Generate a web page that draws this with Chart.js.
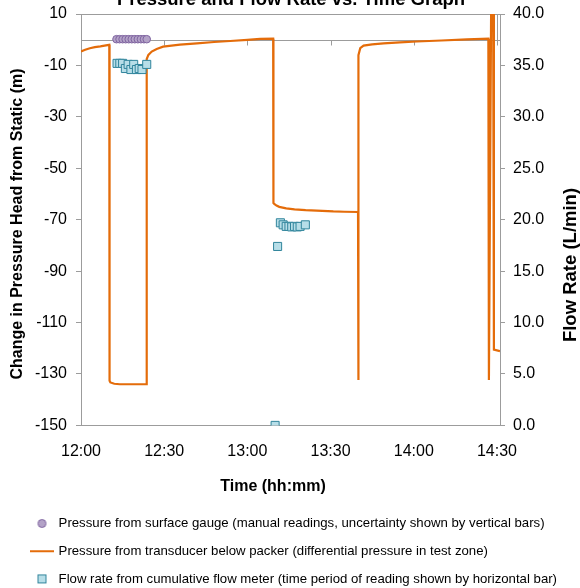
<!DOCTYPE html>
<html><head><meta charset="utf-8">
<script src="https://cdn.jsdelivr.net/npm/chart.js@4.4.1/dist/chart.umd.min.js"></script>
<style>html,body{margin:0;padding:0;background:#fff;overflow:hidden}#wrap{width:580px;height:588px;position:relative}</style>
</head><body><div id="wrap"><canvas id="c" width="580" height="588"></canvas></div>
<script>
// ---------- text ----------
const chartTitle = 'Pressure and Flow Rate vs. Time Graph';
const xTitle = 'Time (hh:mm)';
const yLeftTitle = 'Change in Pressure Head from Static (m)';
const yRightTitle = 'Flow Rate (L/min)';
const legendTexts = [
  'Pressure from surface gauge (manual readings, uncertainty shown by vertical bars)',
  'Pressure from transducer below packer (differential pressure in test zone)',
  'Flow rate from cumulative flow meter (time period of reading shown by horizontal bar)'
];

// ---------- ticks (x in minutes after 12:00) ----------
const xTickValues = [0, 30, 60, 90, 120, 150];
const xTickLabels = ['12:00', '12:30', '13:00', '13:30', '14:00', '14:30'];
const yLeftTicks = [-150, -130, -110, -90, -70, -50, -30, -10, 10];
const yRightTicks = [0, 5, 10, 15, 20, 25, 30, 35, 40];

// ---------- transducer pressure (m) ----------
const transducerTime = [0, 1.5, 3.2, 5, 7, 9, 10.2, 10.3, 10.6, 12, 14, 23.6,
  23.7, 24.3, 25.5, 27.3, 29.6, 35.7, 41.8, 48, 53.8, 60, 64.6, 69.3,
  69.4, 69.7, 70.5, 71.5, 74, 77, 81, 85, 91, 95, 99.9,
  100.0, 100.1, 100.7, 101.9, 105, 109.1, 115, 121.1, 130, 139.2, 146.9,
  147.1, 148.0, 148.6, 148.9, 151.1];
const transducerHead = [-4.6, -3.9, -3.3, -2.9, -2.6, -2.2, -2.0, -132.6, -133.3, -133.8, -134.0, -134.0,
  -7.5, -5.9, -4.6, -3.6, -2.7, -1.9, -1.4, -0.9, -0.5, -0.1, 0.3, 0.4,
  -63.5, -63.9, -64.5, -65.0, -65.6, -66.0, -66.3, -66.5, -66.8, -66.9, -67.0,
  -132.3, -6.0, -3.3, -2.3, -1.8, -1.4, -1.0, -0.7, -0.3, 0.1, 0.4,
  -132.3, 30, 30, -120.5, -121.1];

// ---------- surface gauge pressure (m) ----------
const gaugeTime = [12.8, 13.9, 15.0, 16.1, 17.2, 18.3, 19.4, 20.5, 21.6, 22.7, 23.7];
const gaugeHead = [0.2, 0.2, 0.2, 0.2, 0.2, 0.2, 0.2, 0.2, 0.2, 0.2, 0.2];

// ---------- flow rate (L/min) ----------
const flowTime = [13, 14, 15, 16, 17, 18, 19, 20, 21, 22, 23.7,
  70.0, 70.9, 71.9, 72.9, 74, 75, 76, 77, 78, 79, 80.9];
const flowRate = [35.2, 35.2, 35.2, 34.7, 35.1, 34.6, 35.1, 34.6, 34.7, 34.6, 35.1,
  0.0, 17.4, 19.7, 19.5, 19.35, 19.35, 19.3, 19.35, 19.3, 19.35, 19.5];

// ---------- styles ----------
const FONT = "'Liberation Sans', Arial, sans-serif";
const gray = '#9c9c9c';
const orange = '#e46c0a';
const purpleFill = '#b3a2c7', purpleLine = '#7f64a0';
const blueFill = '#b7dee8', blueLine = '#31859c';

const pts = (xs, ys) => xs.map((x, i) => ({x, y: ys[i]}));

function symbol(kind) {
  const c = document.createElement('canvas');
  if (kind === 'line') { c.width = 24; c.height = 4; }
  else { c.width = 11; c.height = 11; }
  const g = c.getContext('2d');
  if (kind === 'circle') {
    g.beginPath(); g.arc(5.5, 5.5, 4, 0, Math.PI * 2);
    g.fillStyle = purpleFill; g.fill(); g.strokeStyle = purpleLine; g.lineWidth = 1; g.stroke();
  } else if (kind === 'rect') {
    g.fillStyle = blueFill; g.fillRect(1.5, 1.5, 8, 8);
    g.strokeStyle = blueLine; g.lineWidth = 1; g.strokeRect(1.5, 1.5, 8, 8);
  } else {
    g.strokeStyle = orange; g.lineWidth = 2; g.beginPath(); g.moveTo(0, 2); g.lineTo(24, 2); g.stroke();
  }
  return c;
}
const legendSymbols = [symbol('circle'), symbol('line'), symbol('rect')];

const decor = {
  id: 'decor',
  beforeDatasetsDraw(chart) {
    const {ctx, chartArea: a, scales} = chart;
    ctx.save();
    ctx.strokeStyle = gray; ctx.lineWidth = 1;
    const top = Math.round(a.top) + 0.5;
    ctx.beginPath(); ctx.moveTo(a.left, top); ctx.lineTo(a.right, top); ctx.stroke();
    const y0 = Math.round(scales.y.getPixelForValue(0)) + 0.5;
    ctx.beginPath(); ctx.moveTo(a.left, y0); ctx.lineTo(a.right, y0);
    xTickValues.forEach((v, i) => {
      const x = Math.round(scales.x.getPixelForValue(v)) + 0.5;
      const yStart = (i === xTickValues.length - 1) ? top : y0;
      ctx.moveTo(x, yStart); ctx.lineTo(x, y0 + 5);
    });
    ctx.stroke();
    ctx.restore();
  },
  afterDraw(chart) {
    const {ctx} = chart;
    ctx.save();
    ctx.fillStyle = '#000';
    ctx.textAlign = 'center';
    ctx.textBaseline = 'alphabetic';
    ctx.font = 'bold 18.5px ' + FONT;
    ctx.fillText(chartTitle, 291, 5);
    ctx.textBaseline = 'middle';
    ctx.font = 'bold 16px ' + FONT;
    ctx.fillText(xTitle, 273, 487);
    ctx.save(); ctx.translate(18, 224); ctx.rotate(-Math.PI / 2); ctx.fillText(yLeftTitle, 0, 0); ctx.restore();
    ctx.font = 'bold 18.5px ' + FONT;
    ctx.save(); ctx.translate(571, 265); ctx.rotate(-Math.PI / 2); ctx.fillText(yRightTitle, 0, 0); ctx.restore();
    ctx.restore();
  }
};

const tickFont = {family: FONT, size: 16};
const noVPad = (w) => s => { s.width = w; s.paddingTop = 0; s.paddingBottom = 0; };

new Chart(document.getElementById('c'), {
  type: 'scatter',
  data: {
    datasets: [
      {label: legendTexts[0], data: pts(gaugeTime, gaugeHead), yAxisID: 'y', order: 1,
       pointStyle: 'circle', pointRadius: 3.8, backgroundColor: purpleFill, borderColor: purpleLine, borderWidth: 1},
      {label: legendTexts[1], data: pts(transducerTime, transducerHead), yAxisID: 'y', order: 2,
       showLine: true, pointRadius: 0, borderColor: orange, backgroundColor: orange, borderWidth: 2.2, tension: 0},
      {label: legendTexts[2], data: pts(flowTime, flowRate), yAxisID: 'y1', order: 0,
       pointStyle: 'rect', pointRadius: 5.7, backgroundColor: blueFill, borderColor: blueLine, borderWidth: 1}
    ]
  },
  options: {
    responsive: false, animation: false, devicePixelRatio: 1, events: [],
    layout: {padding: {top: 14, left: 17.5, right: 0, bottom: -7.5}},
    scales: {
      x: {
        type: 'linear', min: 0, max: 151.1,
        afterBuildTicks: s => { s.ticks = xTickValues.map(v => ({value: v})); },
        afterFit: s => { s.height = 77; s.paddingLeft = 0; s.paddingRight = 0; },
        grid: {display: false},
        border: {display: true, color: gray, width: 1},
        ticks: {font: tickFont, color: '#000', padding: 9, maxRotation: 0, autoSkip: false,
                callback: v => xTickLabels[xTickValues.indexOf(v)]}
      },
      y: {
        type: 'linear', position: 'left', min: -150, max: 10,
        afterBuildTicks: s => { s.ticks = yLeftTicks.map(v => ({value: v})); },
        afterFit: noVPad(63.5),
        grid: {display: true, drawOnChartArea: false, drawTicks: true, tickLength: 5, color: gray},
        border: {display: true, color: gray, width: 1},
        ticks: {font: tickFont, color: '#000', padding: 9, autoSkip: false}
      },
      y1: {
        type: 'linear', position: 'right', min: 0, max: 40,
        afterBuildTicks: s => { s.ticks = yRightTicks.map(v => ({value: v})); },
        afterFit: noVPad(80),
        grid: {display: true, drawOnChartArea: false, drawTicks: true, tickLength: 5, color: gray},
        border: {display: true, color: gray, width: 1},
        ticks: {font: tickFont, color: '#000', padding: 8, autoSkip: false, callback: v => v.toFixed(1)}
      }
    },
    plugins: {
      title: {display: false},
      tooltip: {enabled: false},
      legend: {
        display: true, position: 'bottom', align: 'start',
        labels: {
          usePointStyle: true, pointStyleWidth: 20, padding: 14.5,
          font: {family: FONT, size: 13.2}, color: '#000',
          generateLabels: () => legendTexts.map((t, i) => ({
            text: t, pointStyle: legendSymbols[i], fillStyle: '#fff', strokeStyle: '#fff',
            lineWidth: 0, hidden: false, datasetIndex: i, fontColor: '#000'
          }))
        }
      }
    }
  },
  plugins: [decor]
});
</script>
</body></html>
